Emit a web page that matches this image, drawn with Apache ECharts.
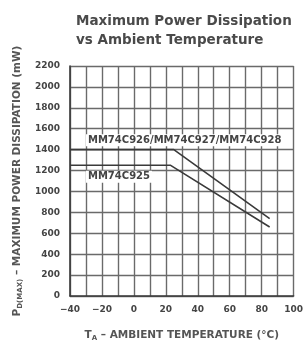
<!DOCTYPE html>
<html>
<head>
<meta charset="utf-8">
<script src="https://cdn.jsdelivr.net/npm/echarts@6.0.0/dist/echarts.min.js"></script>
<style>
  html, body { margin: 0; padding: 0; background: #fff; }
  #chart { width: 306px; height: 348px; }
</style>
</head>
<body>
<div id="chart"></div>
<script>
  // --- Data ---
  const tempTicks = [-40, -20, 0, 20, 40, 60, 80, 100];
  const powerTicks = [0, 200, 400, 600, 800, 1000, 1200, 1400, 1600, 1800, 2000, 2200];

  // [ambient temp (°C), max power dissipation (mW)]
  const upperCurve = [[-40, 1400], [25, 1400], [85, 740]];
  const lowerCurve = [[-40, 1250], [23, 1250], [85, 660]];

  const upperName = 'MM74C926/MM74C927/MM74C928';
  const lowerName = 'MM74C925';

  const FONT = 'DejaVu Sans';
  const INK = '#3a3a3a';
  const GRID = '#6a6a6a';

  function fmtTemp(v) {
    if (v % 20 !== 0) return '';
    return v < 0 ? '\u2212' + Math.abs(v) : String(v);
  }

  function curveLabel(text) {
    return {
      show: true,
      position: 'right',
      distance: 0,
      formatter: text,
      fontFamily: FONT,
      fontWeight: 'bold',
      fontSize: 10,
      color: '#444',
      backgroundColor: '#fff',
      padding: [1, 2]
    };
  }

  const chart = echarts.init(document.getElementById('chart'), null, { renderer: 'canvas' });

  const option = {
    backgroundColor: '#fff',
    animation: false,
    title: {
      text: 'Maximum Power Dissipation\nvs Ambient Temperature',
      left: 71,
      top: 7,
      textStyle: {
        fontFamily: FONT,
        fontWeight: 'bold',
        fontSize: 13.5,
        lineHeight: 19,
        color: '#4a4a4a'
      }
    },
    grid: { left: 70, right: 1.5, top: 66, bottom: 52 },
    xAxis: {
      type: 'value',
      min: tempTicks[0],
      max: tempTicks[tempTicks.length - 1],
      interval: 10,
      name: 'T{sub|A} \u2013 AMBIENT TEMPERATURE (\u00b0C)',
      nameLocation: 'middle',
      nameGap: 33,
      nameTextStyle: {
        fontFamily: FONT,
        fontWeight: 'bold',
        fontSize: 10.5,
        color: '#555',
        rich: { sub: { fontFamily: FONT, fontWeight: 'bold', fontSize: 7, color: '#555', padding: [6, 0, 0, 0] } }
      },
      axisLine: { show: true, onZero: false, lineStyle: { color: INK, width: 1.6 } },
      axisTick: { show: false },
      axisLabel: {
        formatter: fmtTemp,
        margin: 9,
        fontFamily: FONT,
        fontWeight: 'bold',
        fontSize: 9,
        color: '#444'
      },
      splitLine: { show: true, lineStyle: { color: GRID, width: 1.4 } }
    },
    yAxis: {
      type: 'value',
      min: powerTicks[0],
      max: powerTicks[powerTicks.length - 1],
      interval: 200,
      name: 'P{sub|D(MAX)} \u2013 MAXIMUM POWER DISSIPATION (mW)',
      nameLocation: 'middle',
      nameGap: 45,
      nameTextStyle: {
        fontFamily: FONT,
        fontWeight: 'bold',
        fontSize: 10.5,
        color: '#555',
        rich: { sub: { fontFamily: FONT, fontWeight: 'bold', fontSize: 7, color: '#555', padding: [6, 0, 0, 0] } }
      },
      axisLine: { show: true, onZero: false, lineStyle: { color: INK, width: 1.6 } },
      axisTick: { show: false },
      axisLabel: {
        formatter: function (v) { return String(v); },
        margin: 10,
        fontFamily: FONT,
        fontWeight: 'bold',
        fontSize: 9,
        color: '#444'
      },
      splitLine: { show: true, lineStyle: { color: GRID, width: 1.4 } }
    },
    series: [
      {
        name: upperName,
        type: 'line',
        data: upperCurve,
        symbol: 'none',
        lineStyle: { color: INK, width: 1.6 },
        markPoint: {
          symbol: 'rect',
          symbolSize: 0,
          data: [{ coord: [-30, 1490], label: curveLabel(upperName) }]
        }
      },
      {
        name: lowerName,
        type: 'line',
        data: lowerCurve,
        symbol: 'none',
        lineStyle: { color: INK, width: 1.6 },
        markPoint: {
          symbol: 'rect',
          symbolSize: 0,
          data: [{ coord: [-30, 1140], label: curveLabel(lowerName) }]
        }
      }
    ]
  };

  chart.setOption(option);
</script>
</body>
</html>
